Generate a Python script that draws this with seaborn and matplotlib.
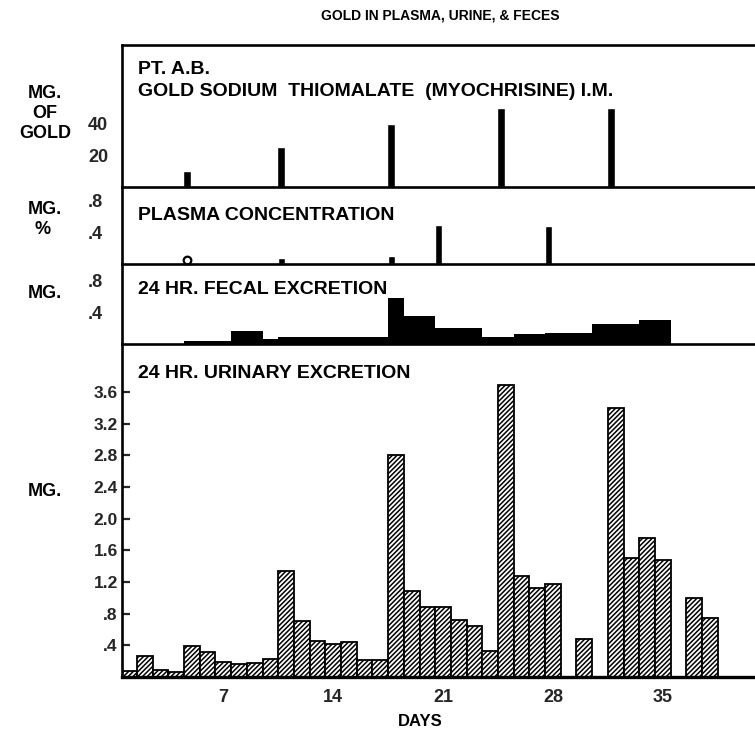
import numpy as np
import matplotlib
matplotlib.use("Agg")
import matplotlib.pyplot as plt
import seaborn as sns

# ---------------- data ----------------
inj_days = [5, 11, 18, 25, 32]
inj_mg = [10, 25, 40, 50, 50]

plasma_days = [11, 18, 21, 28]
plasma_mg_pct = [0.07, 0.10, 0.50, 0.48]
plasma_zero_days = [5]

fecal_start = [5, 8, 10, 11, 18, 19, 21, 24, 26, 28, 31, 34]
fecal_end = [7, 9, 10, 17, 18, 20, 23, 25, 27, 30, 33, 35]
fecal_mg = [0.035, 0.16, 0.055, 0.085, 0.58, 0.35, 0.20, 0.085, 0.12, 0.14, 0.245, 0.295]

urine_days = [1, 2, 3, 4, 5, 6, 7, 8, 9, 10,
              11, 12, 13, 14, 15, 16, 17, 18, 19, 20,
              21, 22, 23, 24, 25, 26, 27, 28, 30,
              32, 33, 34, 35, 37, 38]
urine_mg = [0.08, 0.26, 0.09, 0.06, 0.39, 0.31, 0.19, 0.16, 0.18, 0.23,
            1.34, 0.71, 0.46, 0.42, 0.44, 0.21, 0.22, 2.81, 1.08, 0.89,
            0.89, 0.72, 0.64, 0.33, 3.69, 1.28, 1.12, 1.17, 0.48,
            3.40, 1.50, 1.76, 1.48, 1.00, 0.745]

x_ticks = [7, 14, 21, 28, 35]
u_ticks = [0.4, 0.8, 1.2, 1.6, 2.0, 2.4, 2.8, 3.2, 3.6]
u_tick_labels = [".4", ".8", "1.2", "1.6", "2.0", "2.4", "2.8", "3.2", "3.6"]

# ---------------- style ----------------
sns.set_theme(style="white")
plt.rcParams["font.family"] = ["Liberation Sans", "DejaVu Sans"]
plt.rcParams["font.weight"] = "bold"
plt.rcParams["hatch.linewidth"] = 1.1
plt.rcParams["hatch.color"] = "black"

W, H = 755, 736
fig = plt.figure(figsize=(W / 100, H / 100), dpi=100)
fig.patch.set_facecolor("white")


def box(top_px, bot_px, left_px=122, right_px=755):
    return [left_px / W, 1 - bot_px / H, (right_px - left_px) / W, (bot_px - top_px) / H]


ax_inj = fig.add_axes(box(45, 187))
ax_pl = fig.add_axes(box(187, 264))
ax_fe = fig.add_axes(box(264, 343.7))
ax_ur = fig.add_axes(box(343.7, 677))

XLIM = (0.55, 40.87)
SPW = 1.9
for ax in (ax_inj, ax_pl, ax_fe, ax_ur):
    ax.set_xlim(*XLIM)
    ax.set_facecolor("none")
    for s in ax.spines.values():
        s.set_color("black")
        s.set_linewidth(SPW)
        s.set_zorder(5)
    ax.spines["right"].set_visible(False)
    ax.set_xticks([])
    ax.set_xlabel("")
    ax.set_ylabel("")

OFF = -0.3  # drawing offset of the thin markers within a day

# injections
ax_inj.bar(np.array(inj_days) + OFF, inj_mg, width=0.5, color="black")
ax_inj.set_ylim(0, 89.6)
ax_inj.set_yticks([20, 40])
ax_inj.set_yticklabels(["20", "40"])
ax_inj.tick_params(axis="y", length=0, pad=10, labelsize=13)

# plasma
ax_pl.bar(np.array(plasma_days) + OFF, plasma_mg_pct, width=0.42, color="black")
ax_pl.plot(np.array(plasma_zero_days) + OFF, [0.055] * len(plasma_zero_days), "o",
           mfc="white", mec="black", mew=1.6, ms=5.5, clip_on=False)
ax_pl.set_ylim(0, 0.975)
ax_pl.set_yticks([0.4, 0.8])
ax_pl.set_yticklabels([".4", ".8"])
ax_pl.spines["top"].set_visible(False)
ax_pl.tick_params(axis="y", length=0, pad=14, labelsize=13)

# fecal (variable-width collection periods)
f_edges = [fecal_start[0] - 0.5] + [e + 0.5 for e in fecal_end]
f_mid = [(s + e) / 2 for s, e in zip(fecal_start, fecal_end)]
sns.histplot(x=f_mid, weights=fecal_mg, bins=f_edges, color="black", alpha=1,
             linewidth=0, ax=ax_fe)
ax_fe.set_ylim(0, 1.006)
ax_fe.set_xlim(*XLIM)
ax_fe.set_yticks([0.4, 0.8])
ax_fe.set_yticklabels([".4", ".8"])
ax_fe.spines["top"].set_visible(False)
ax_fe.tick_params(axis="y", length=0, pad=14, labelsize=13)
ax_fe.set_ylabel("")
ax_fe.set_xticks([])

# urinary
sns.barplot(x=urine_days, y=urine_mg, native_scale=True, width=1, errorbar=None,
            color="white", edgecolor="black", linewidth=1.3, hatch="///////",
            saturation=1, ax=ax_ur)
ax_ur.set_xlim(*XLIM)
ax_ur.set_ylim(0, 4.21)
ax_ur.spines["top"].set_visible(False)
ax_ur.spines["bottom"].set_linewidth(2.4)
ax_ur.set_yticks(u_ticks)
ax_ur.set_yticklabels(u_tick_labels)
ax_ur.tick_params(axis="y", direction="in", length=6, width=1.6, pad=3, labelsize=12.5, left=True)
ax_ur.set_xticks(x_ticks)
ax_ur.set_xticklabels([str(t) for t in x_ticks])
ax_ur.tick_params(axis="x", length=0, pad=9, labelsize=13)
ax_ur.set_xlabel("")
ax_ur.set_ylabel("")
for a in (ax_inj, ax_pl, ax_fe, ax_ur):
    for lab in a.get_yticklabels() + a.get_xticklabels():
        lab.set_fontweight("bold")


def ftext(xp, yp, s, size=14, ha="left", weight="bold"):
    fig.text(xp / W, 1 - yp / H, s, ha=ha, va="center", fontsize=size,
             fontweight=weight, color="black")


ftext(440, 15, "GOLD IN PLASMA, URINE, & FECES", size=10, ha="center")
ftext(138, 69, "PT. A.B.")
ftext(138, 92, "GOLD SODIUM  THIOMALATE  (MYOCHRISINE) I.M.")
ftext(138, 216, "PLASMA CONCENTRATION")
ftext(138, 290, "24 HR. FECAL EXCRETION")
ftext(138, 374, "24 HR. URINARY EXCRETION")

ftext(45, 93, "MG.", size=13, ha="center")
ftext(45, 113, "OF", size=13, ha="center")
ftext(45, 133, "GOLD", size=13, ha="center")
ftext(45, 210, "MG.", size=13, ha="center")
ftext(43, 229, "%", size=13, ha="center")
ftext(45, 293, "MG.", size=13, ha="center")
ftext(45, 492, "MG.", size=13, ha="center")
ftext(420, 722, "DAYS", size=12, ha="center")

fig.savefig("out.png", dpi=100, facecolor="white")
